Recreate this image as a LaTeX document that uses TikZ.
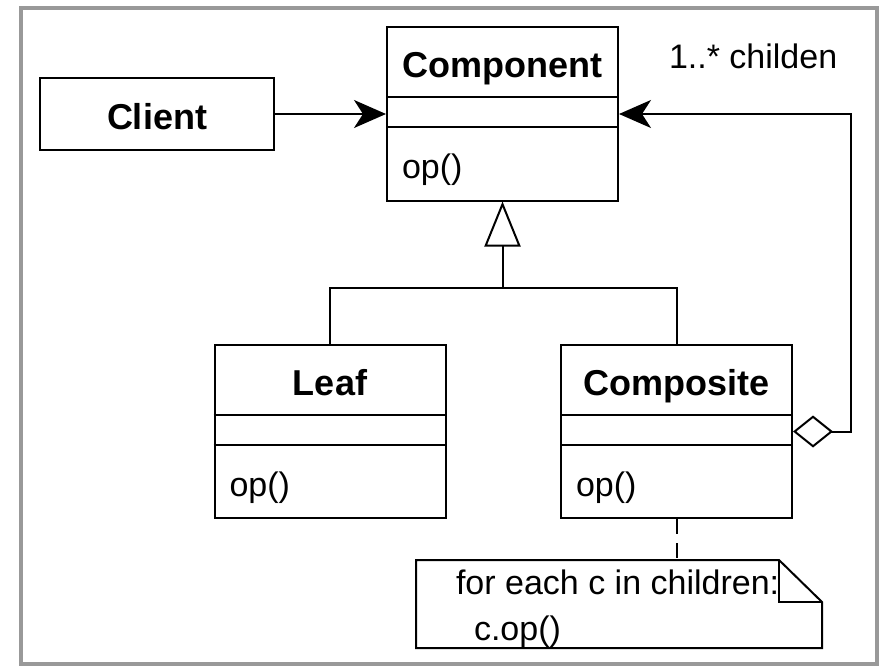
\documentclass[tikz,border=0pt]{standalone}
\usepackage{fontspec}
\setmainfont{Liberation Sans}
\usetikzlibrary{positioning,arrows.meta}

\begin{document}
\begin{tikzpicture}[x=1pt, y=-1pt, line width=2pt,
  box/.style={draw, inner sep=0pt, minimum width=231pt, minimum height=173pt},
  title/.style={font=\fontsize{36}{40}\selectfont\bfseries, anchor=base, inner sep=0pt},
  txt/.style={font=\fontsize{34}{40}\selectfont, anchor=base west, inner sep=0pt},
  tip/.style={-{Stealth[length=32pt,width=28pt,inset=9pt]}}]
\useasboundingbox (0,0) rectangle (880,666);
\draw[black!40, line width=4pt] (21,8) rectangle (877,664);

% classes
\node[box] (comp) at (502.5,114) {};
\node[box] (leaf) at (330,431.5) {};
\node[box] (compo) at (676.5,431.5) {};
\node[box, minimum width=234pt, minimum height=72pt] (client) at (157,114) {};
\node[title] (client-title) at ([yshift=-52pt]client.north) {Client};

\foreach \n/\t in {comp/Component, leaf/Leaf, compo/Composite}
{
    \draw ([yshift=-71pt]\n.north west) -- ([yshift=-71pt]\n.north east);
    \draw ([yshift=-101pt]\n.north west) -- ([yshift=-101pt]\n.north east);
    \node[title] (\n-title) at ([yshift=-51pt]\n.north) {\t};
    \node[txt] (\n-op) at ([xshift=15pt,yshift=-152pt]\n.north west) {op()};
}

% links
\draw[tip] (client) -- (comp);

\coordinate (fork) at ([yshift=-86pt]comp.south);
\draw (leaf.north) |- (fork) -| (compo.north);
\draw[-{Triangle[open,length=45pt,width=36pt]}] (fork) -- (comp.south);

\coordinate (bend) at ([xshift=58pt]compo.east);
\draw[{Diamond[open,length=40pt,width=32pt]}-{Stealth[length=32pt,width=28pt,inset=9pt]}] (compo.east) -- (bend) |- (comp.east);
\node[txt] (mult) at (668,69) {1..* childen};

% note
\node[minimum width=404pt, minimum height=86pt, inner sep=0pt] (note) at (619,604) {};
\node[txt] (loop) at (455,594) {for each c in children:};
\node[txt] (call) at (473,640) {c.op()};
\draw (note.north west) -- ([xshift=-43pt]note.north east) -- ([yshift=-42pt]note.north east) -- (note.south east) -- (note.south west) -- cycle;
\draw ([xshift=-43pt]note.north east) |- ([yshift=-42pt]note.north east);
\draw[dash pattern=on 15pt off 9pt] (compo.south) -- (compo.south |- note.north);

\end{tikzpicture}
\end{document}
